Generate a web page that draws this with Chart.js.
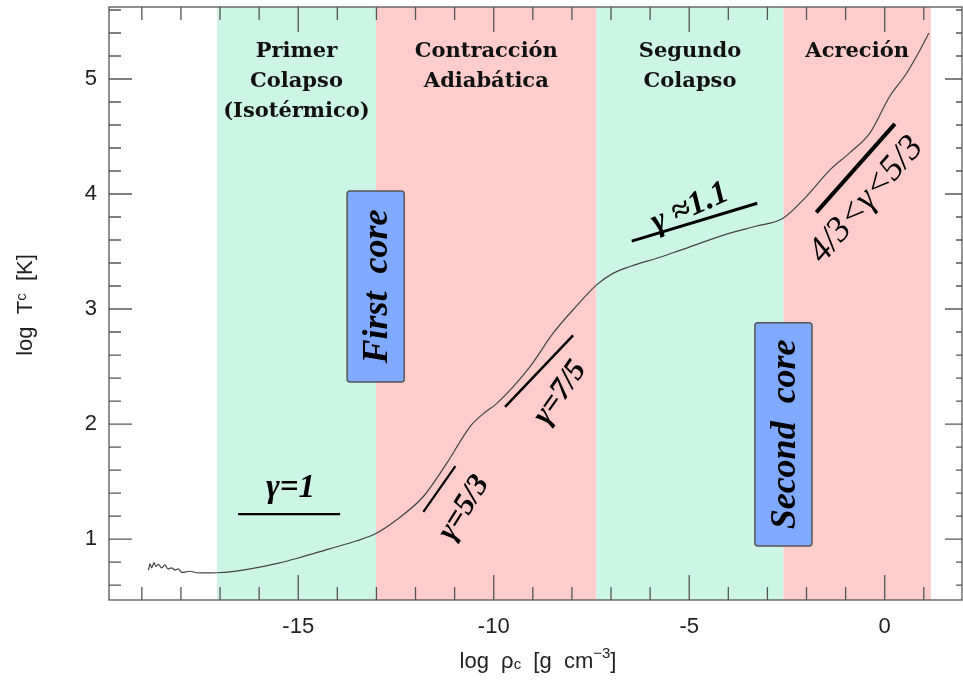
<!DOCTYPE html>
<html>
<head>
<meta charset="utf-8">
<script src="https://cdn.jsdelivr.net/npm/chart.js@4.4.1/dist/chart.umd.min.js"></script>
<style>
  html, body { margin: 0; padding: 0; background: #fff; }
</style>
</head>
<body>
<canvas id="tcChart" width="963" height="682"></canvas>
<script>
// central density vs central temperature (log10)
const logRho = [-18.83, -18.79, -18.75, -18.69, -18.64, -18.58, -18.49, -18.41, -18.33, -18.24,
  -18.15, -18.07, -17.98, -17.77, -17.60, -17.34, -17.08, -16.74, -16.23, -15.5,
  -15.0, -14.2, -13.5, -13.0, -12.49, -11.8, -11.2, -10.6, -10.3, -9.92,
  -9.07, -8.48, -7.9, -7.37, -6.95, -6.51, -5.75, -5.24, -3.96, -3.3,
  -2.6, -2.0, -1.40, -0.89, -0.38, 0.13, 0.56, 0.90, 1.13];
const logT = [0.73, 0.785, 0.75, 0.795, 0.76, 0.78, 0.75, 0.775, 0.74, 0.75,
  0.73, 0.74, 0.71, 0.72, 0.707, 0.705, 0.707, 0.715, 0.74, 0.79,
  0.835, 0.915, 0.985, 1.05, 1.165, 1.37, 1.66, 1.98, 2.08, 2.18,
  2.50, 2.79, 3.02, 3.21, 3.31, 3.37, 3.45, 3.51, 3.66, 3.72,
  3.79, 3.98, 4.21, 4.36, 4.53, 4.85, 5.05, 5.25, 5.40];

// evolutionary phases (band edges in log rho)
const phaseEdges = [-17.08, -13.01, -7.37, -2.59, 1.18];
const phaseNames = [["Primer", "Colapso", "(Isotérmico)"], ["Contracción", "Adiabática"],
  ["Segundo", "Colapso"], ["Acreción"]];
const phaseColors = ["#ccf5e6", "#ffcccc", "#ccf5e6", "#ffcccc"];

// gamma fit segments
const gammaLabels = ["γ=1", "γ=5/3", "γ=7/5", "γ ≈1.1", "4/3<γ<5/3"];
const gammaX = [[-16.54, -13.93], [-11.80, -10.98], [-9.71, -7.97], [-6.47, -3.26], [-1.75, 0.26]];
const gammaY = [[1.217, 1.217], [1.237, 1.635], [2.15, 2.77], [3.59, 3.92], [3.84, 4.61]];

// ticks
const xMajorTicks = [-15, -10, -5, 0];
const xMinorTicks = [-19, -18, -17, -16, -14, -13, -12, -11, -9, -8, -7, -6, -4, -3, -2, -1, 1];
const yMajorTicks = [1, 2, 3, 4, 5];
const yMinorTicks = [0.6, 0.8, 1.2, 1.4, 1.6, 1.8, 2.2, 2.4, 2.6, 2.8, 3.2, 3.4, 3.6, 3.8,
  4.2, 4.4, 4.6, 4.8, 5.2, 5.4, 5.6];

// annotation layout (data coords)
const gammaTextPos = [[-15.2, 1.443, 0], [-10.76, 1.27, -58], [-8.30, 2.27, -55], [-4.98, 3.88, -24], [-0.47, 3.95, -49]];
const gammaTextFont = ["bold italic 33px 'Liberation Serif'", "bold italic 31px 'Liberation Serif'",
  "bold italic 31px 'Liberation Serif'", "bold italic 33px 'Liberation Serif'", "italic 36px 'Liberation Serif'"];
const gammaWidths = [2.2, 2.2, 2.5, 3, 4];
const coreBoxes = [
  { text: "First  core", x0: -13.75, x1: -12.29, y0: 2.365, y1: 4.026 },
  { text: "Second  core", x0: -3.32, x1: -1.86, y0: 0.94, y1: 2.88 }
];

const px = (c, v) => c.scales.x.getPixelForValue(v);
const py = (c, v) => c.scales.y.getPixelForValue(v);

const phasePlugin = {
  id: "phases",
  beforeDatasetsDraw(chart) {
    const { ctx, chartArea: a } = chart;
    ctx.save();
    phaseNames.forEach((lines, i) => {
      const x0 = px(chart, phaseEdges[i]), x1 = px(chart, phaseEdges[i + 1]);
      ctx.fillStyle = phaseColors[i];
      ctx.fillRect(x0, a.top, x1 - x0, a.bottom - a.top);
    });
    ctx.fillStyle = "#111";
    ctx.font = "bold 21px 'DejaVu Serif'";
    ctx.textAlign = "center";
    ctx.textBaseline = "alphabetic";
    phaseNames.forEach((lines, i) => {
      const xc = (px(chart, phaseEdges[i]) + px(chart, phaseEdges[i + 1])) / 2;
      lines.forEach((t, j) => ctx.fillText(t, xc, a.top + 50 + j * 30));
    });
    ctx.restore();
  }
};

const notesPlugin = {
  id: "notes",
  afterDatasetsDraw(chart) {
    const { ctx } = chart;
    ctx.save();
    ctx.fillStyle = "#000";
    ctx.textAlign = "center";
    ctx.textBaseline = "middle";
    gammaLabels.forEach((t, i) => {
      const [x, y, rot] = gammaTextPos[i];
      ctx.save();
      ctx.translate(px(chart, x), py(chart, y));
      ctx.rotate(rot * Math.PI / 180);
      ctx.font = gammaTextFont[i];
      ctx.fillText(t, 0, 0);
      ctx.restore();
    });
    coreBoxes.forEach(b => {
      const x0 = px(chart, b.x0), x1 = px(chart, b.x1);
      const y0 = py(chart, b.y1), y1 = py(chart, b.y0);
      ctx.beginPath();
      ctx.roundRect(x0, y0, x1 - x0, y1 - y0, 3);
      ctx.fillStyle = "#80aaff";
      ctx.fill();
      ctx.lineWidth = 1.5;
      ctx.strokeStyle = "#555";
      ctx.stroke();
      ctx.save();
      ctx.translate((x0 + x1) / 2 + 2, (y0 + y1) / 2);
      ctx.rotate(-Math.PI / 2);
      ctx.fillStyle = "#000";
      ctx.font = "bold italic 36px 'Liberation Serif'";
      ctx.fillText(b.text, 0, 0);
      ctx.restore();
    });
    ctx.restore();
  }
};

function drawParts(ctx, parts, x, y) {
  // parts: [text, size, dy]
  let w = 0;
  parts.forEach(p => { ctx.font = p[1] + "px 'Liberation Sans'"; w += ctx.measureText(p[0]).width; });
  let cx = x - w / 2;
  parts.forEach(p => {
    ctx.font = p[1] + "px 'Liberation Sans'";
    ctx.fillText(p[0], cx, y + p[2]);
    cx += ctx.measureText(p[0]).width;
  });
}

const framePlugin = {
  id: "frame",
  afterDraw(chart) {
    const { ctx, chartArea: a } = chart;
    ctx.save();
    ctx.strokeStyle = "#555";
    ctx.lineWidth = 1.3;
    ctx.strokeRect(a.left, a.top, a.right - a.left, a.bottom - a.top);
    ctx.beginPath();
    const xt = (v, L) => {
      const x = px(chart, v);
      ctx.moveTo(x, a.bottom); ctx.lineTo(x, a.bottom - L);
      ctx.moveTo(x, a.top); ctx.lineTo(x, a.top + L);
    };
    const yt = (v, L, R) => {
      const y = py(chart, v);
      ctx.moveTo(a.left, y); ctx.lineTo(a.left + L, y);
      ctx.moveTo(a.right, y); ctx.lineTo(a.right - R, y);
    };
    xMajorTicks.forEach(v => xt(v, 25));
    xMinorTicks.forEach(v => xt(v, 13));
    yMajorTicks.forEach(v => yt(v, 23, 17));
    yMinorTicks.forEach(v => yt(v, 12, 6));
    ctx.stroke();

    // axis titles
    ctx.fillStyle = "#222";
    ctx.textAlign = "left";
    ctx.textBaseline = "alphabetic";
    drawParts(ctx, [["log  ρ", 22, 0], ["c", 15, 1], ["  [g  cm", 22, 0], ["−3", 15, -10], ["]", 22, 0]], 538, 668);
    ctx.translate(32, 305);
    ctx.rotate(-Math.PI / 2);
    drawParts(ctx, [["log  T", 22, 0], ["c", 15, -6], ["  [K]", 22, 0]], 0, 0);
    ctx.restore();
  }
};

const datasets = [{
  data: logRho.map((x, i) => ({ x, y: logT[i] })),
  borderColor: "#444",
  borderWidth: 1.2,
  pointRadius: 0,
  showLine: true,
  cubicInterpolationMode: "monotone"
}];
gammaX.forEach((xs, i) => {
  datasets.push({
    data: xs.map((x, j) => ({ x, y: gammaY[i][j] })),
    borderColor: "#000",
    borderWidth: gammaWidths[i],
    pointRadius: 0,
    showLine: true
  });
});

const noPad = s => { s.paddingTop = 0; s.paddingBottom = 0; s.paddingLeft = 0; s.paddingRight = 0; };

new Chart(document.getElementById("tcChart"), {
  type: "scatter",
  data: { datasets },
  options: {
    responsive: false,
    animation: false,
    layout: { padding: { top: 7, right: 1, left: 0, bottom: 0 } },
    plugins: { legend: { display: false }, tooltip: { enabled: false } },
    scales: {
      x: {
        type: "linear",
        min: -19.84,
        max: 1.977,
        grid: { display: false, drawTicks: false },
        border: { display: false },
        afterBuildTicks: s => { s.ticks = xMajorTicks.map(v => ({ value: v })); },
        afterFit: s => { s.height = 82; noPad(s); },
        ticks: {
          padding: 14,
          color: "#222",
          font: { family: "'Liberation Sans'", size: 22 },
          callback: v => String(v)
        }
      },
      y: {
        type: "linear",
        min: 0.47,
        max: 5.626,
        grid: { display: false, drawTicks: false },
        border: { display: false },
        afterBuildTicks: s => { s.ticks = yMajorTicks.map(v => ({ value: v })); },
        afterFit: s => { s.width = 109; noPad(s); },
        ticks: {
          padding: 12,
          color: "#222",
          font: { family: "'Liberation Sans'", size: 22 },
          callback: v => String(v)
        }
      }
    }
  },
  plugins: [phasePlugin, notesPlugin, framePlugin]
});
</script>
</body>
</html>
